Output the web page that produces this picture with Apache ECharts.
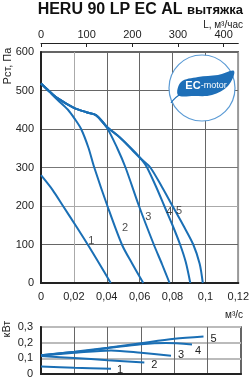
<!DOCTYPE html>
<html>
<head>
<meta charset="utf-8">
<script src="https://cdn.jsdelivr.net/npm/echarts@6/dist/echarts.min.js"></script>
<style>
  html, body { margin: 0; padding: 0; background: #fff; }
  #chart { width: 252px; height: 380px; }
</style>
</head>
<body>
<div id="chart"></div>
<script>
// кривые давления: [расход м3/с, Па]
const p1 = [[0, 280], [0.007, 242], [0.0134, 200], [0.021, 150], [0.0284, 100], [0.0355, 50], [0.0424, 0]];
const p2 = [[0, 518], [0.005, 497], [0.01, 476], [0.0164, 450], [0.0204, 427], [0.0244, 400], [0.0288, 352], [0.0324, 300], [0.0404, 200], [0.0492, 100], [0.0555, 50], [0.0622, 0]];
const p3 = [[0, 518], [0.005, 498], [0.01, 480], [0.02, 455], [0.028, 443], [0.0334, 436], [0.04, 404], [0.0464, 350], [0.0514, 300], [0.0596, 200], [0.0686, 100], [0.0735, 50], [0.0782, 0]];
const p4 = [[0, 518], [0.005, 498], [0.01, 480], [0.02, 455], [0.028, 443], [0.0334, 436], [0.04, 406], [0.048, 378], [0.056, 343], [0.062, 316], [0.0645, 300], [0.07, 250], [0.075, 200], [0.08, 150], [0.0846, 100], [0.088, 55], [0.0908, 0]];
const p5 = [[0, 518], [0.005, 498], [0.01, 480], [0.02, 455], [0.028, 443], [0.0334, 436], [0.04, 406], [0.048, 378], [0.056, 345], [0.062, 318], [0.0665, 300], [0.0735, 250], [0.08, 200], [0.0865, 150], [0.0926, 100], [0.0965, 50], [0.0984, 0]];

// кривые мощности: [расход м3/с, кВт]
const w1 = [[0, 0.048], [0.02, 0.04], [0.042, 0.033]];
const w2 = [[0, 0.115], [0.02, 0.102], [0.04, 0.088], [0.062, 0.074]];
const w3 = [[0, 0.118], [0.02, 0.135], [0.042, 0.15], [0.06, 0.135], [0.078, 0.116]];
const w4 = [[0, 0.12], [0.02, 0.14], [0.04, 0.165], [0.06, 0.19], [0.075, 0.198], [0.0906, 0.189]];
const w5 = [[0, 0.12], [0.02, 0.142], [0.04, 0.168], [0.06, 0.197], [0.08, 0.225], [0.0975, 0.24]];

const curveNames = ['1', '2', '3', '4', '5'];
// позиции подписей на графике давления
const labelPos = [[0.0306, 109], [0.0512, 143], [0.0652, 172], [0.078, 185], [0.084, 188]];
// смещения подписей у концов кривых мощности
const powerLabelOffset = [[3, 1], [4, 3], [4, -1], [0, 7], [4, 3]];

const blue = '#1a6fb5';
const comma = v => {
  const r = Math.round(v * 100) / 100;
  return r === 0 ? '0' : String(r).replace('.', ',');
};

const chart = echarts.init(document.getElementById('chart'));

const pressureSeries = [p1, p2, p3, p4, p5].map((d, i) => ({
  type: 'line', name: curveNames[i], xAxisIndex: 0, yAxisIndex: 0,
  data: d, symbol: 'none', smooth: 0.3,
  lineStyle: {color: blue, width: 2}, z: 5
}));

const powerSeries = [w1, w2, w3, w4, w5].map((d, i) => ({
  type: 'line', name: 'w' + curveNames[i], xAxisIndex: 2, yAxisIndex: 1,
  data: d, symbol: 'none', smooth: 0.3,
  lineStyle: {color: blue, width: 2}, z: 5,
  endLabel: {
    show: true, formatter: curveNames[i], color: '#222', fontSize: 11,
    fontFamily: 'Liberation Sans', distance: 3,
    offset: powerLabelOffset[i]
  }
}));

const labelSeries = {
  type: 'scatter', xAxisIndex: 0, yAxisIndex: 0, symbolSize: 0, z: 6,
  data: labelPos.map((p, i) => ({value: p, name: curveNames[i]})),
  label: {show: true, position: 'inside', formatter: p => p.name, color: '#222', fontSize: 11, fontFamily: 'Liberation Sans'}
};

const option = {
  animation: false,
  grid: [
    {left: 41, top: 52, width: 200, height: 231, show: true, borderColor: '#333', borderWidth: 1.5, backgroundColor: '#fff'},
    {left: 41, top: 327, width: 200, height: 47, show: true, borderColor: '#333', borderWidth: 1.5, backgroundColor: '#fff'}
  ],
  xAxis: [
    {
      type: 'value', gridIndex: 0, min: 0, max: 0.12, interval: 0.02,
      axisLine: {lineStyle: {color: '#222', width: 2}},
      axisTick: {show: false},
      axisLabel: {formatter: comma, color: '#222', fontSize: 11, fontFamily: 'Liberation Sans', margin: 8},
      splitLine: {show: true, lineStyle: {color: ['#999', '#aaa', '#666', '#666', '#666', '#666'], width: 1}}
    },
    {
      type: 'value', gridIndex: 0, position: 'top', offset: 9, min: 0, max: 432, interval: 100,
      axisLine: {show: true, lineStyle: {color: '#222', width: 1}},
      axisTick: {show: true, inside: true, length: 4, lineStyle: {color: '#222'}},
      axisLabel: {color: '#222', fontSize: 11, fontFamily: 'Liberation Sans', margin: 3, showMaxLabel: false},
      splitLine: {show: false}
    },
    {
      type: 'value', gridIndex: 1, min: 0, max: 0.12, interval: 0.02,
      axisLine: {lineStyle: {color: '#222', width: 2}},
      axisTick: {show: false}, axisLabel: {show: false},
      splitLine: {show: true, lineStyle: {color: '#666', width: 1}}
    }
  ],
  yAxis: [
    {
      type: 'value', gridIndex: 0, min: 0, max: 600, interval: 100,
      axisLine: {show: true, lineStyle: {color: '#222', width: 2}},
      axisTick: {show: false},
      axisLabel: {color: '#222', fontSize: 11, fontFamily: 'Liberation Sans', margin: 7},
      splitLine: {show: true, lineStyle: {color: ['#666', '#666', '#aaa', '#777', '#666', '#666'], width: 1}}
    },
    {
      type: 'value', gridIndex: 1, min: 0, max: 0.3, interval: 0.1,
      axisLine: {show: true, lineStyle: {color: '#222', width: 2}},
      axisTick: {show: false},
      axisLabel: {formatter: v => comma(v), color: '#222', fontSize: 11, fontFamily: 'Liberation Sans', margin: 8},
      splitLine: {show: true, lineStyle: {color: '#bbb', width: 2}}
    }
  ],
  series: [...pressureSeries, labelSeries, ...powerSeries],
  graphic: [
    {
      type: 'text', x: 243, y: 2, z: 20,
      style: {
        text: 'HERU 90 LP EC AL {s|вытяжка}', align: 'right', verticalAlign: 'top',
        fontSize: 16, fontWeight: 'bold', fontFamily: 'Liberation Sans', fill: '#111',
        rich: {s: {fontSize: 13, fontWeight: 'bold', fontFamily: 'Liberation Sans', fill: '#111'}}
      }
    },
    {type: 'text', x: 243, y: 20, z: 20, style: {text: 'L, м³/час', align: 'right', verticalAlign: 'top', fontSize: 10, fontFamily: 'Liberation Sans', fill: '#222'}},
    {type: 'text', x: 243, y: 310, z: 20, style: {text: 'м³/с', align: 'right', verticalAlign: 'top', fontSize: 10, fontFamily: 'Liberation Sans', fill: '#222'}},
    {type: 'text', x: 8, y: 66, rotation: Math.PI / 2, z: 20, style: {text: 'Рст, Па', align: 'center', verticalAlign: 'middle', fontSize: 11, fontFamily: 'Liberation Sans', fill: '#222'}},
    {type: 'text', x: 7, y: 329, rotation: Math.PI / 2, z: 20, style: {text: 'кВт', align: 'center', verticalAlign: 'middle', fontSize: 11, fontFamily: 'Liberation Sans', fill: '#222'}},
    // логотип EC-motor
    {type: 'circle', z: 20, shape: {cx: 202, cy: 88, r: 33}, style: {fill: '#fff', stroke: '#5b9bd5', lineWidth: 1.2}},
    {
      type: 'polygon', z: 21,
      shape: {points: [[178, 95], [181, 82], [198, 77], [218, 75], [234, 71], [228, 86], [212, 95], [194, 96]], smooth: 0.35},
      style: {fill: '#1e6fb8'}
    },
    {type: 'bezierCurve', z: 21, shape: {x1: 181, y1: 94, x2: 171, y2: 103, cpx1: 175, cpy1: 97}, style: {fill: null, stroke: '#1e6fb8', lineWidth: 1.2}},
    {
      type: 'text', x: 206, y: 86, z: 22,
      style: {
        text: '{a|EC}{b|-motor}', align: 'center', verticalAlign: 'middle', fill: '#fff',
        rich: {a: {fontSize: 11, fontWeight: 'bold', fontFamily: 'Liberation Sans', fill: '#fff'}, b: {fontSize: 9, fontFamily: 'Liberation Sans', fill: '#fff'}}
      }
    }
  ]
};

chart.setOption(option);
</script>
</body>
</html>
